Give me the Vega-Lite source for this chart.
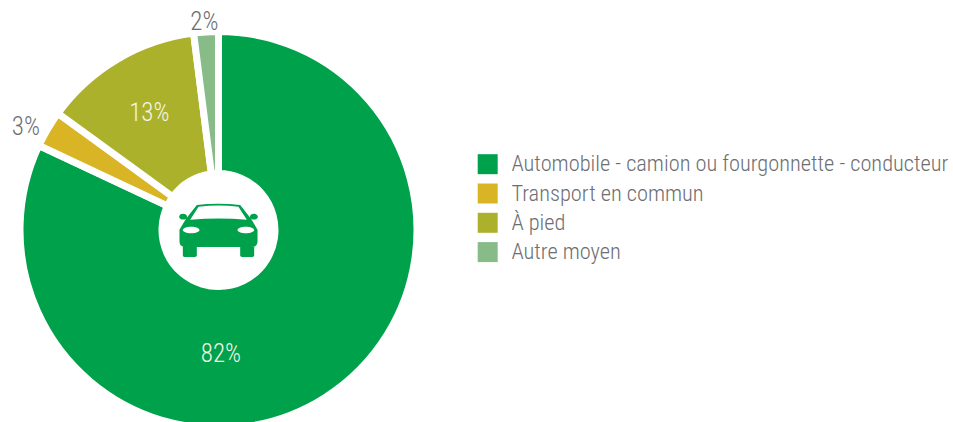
{
  "$schema": "https://vega.github.io/schema/vega-lite/v6.json",
  "width": 437, "height": 460, "padding": 0,
  "background": "white",
  "config": {"view": {"stroke": null}, "font": "Roboto Condensed, Roboto"},
  "data": {"values": [
    {"mode": "Automobile - camion ou fourgonnette - conducteur", "part": 82, "ordre": 1, "etiquette": "82%"},
    {"mode": "Transport en commun", "part": 3, "ordre": 2, "etiquette": "3%"},
    {"mode": "À pied", "part": 13, "ordre": 3, "etiquette": "13%"},
    {"mode": "Autre moyen", "part": 2, "ordre": 4, "etiquette": "2%"}
  ]},
  "encoding": {
    "theta": {"field": "part", "type": "quantitative", "stack": true},
    "order": {"field": "ordre", "type": "ordinal"}
  },
  "layer": [
    {
      "mark": {"type": "arc", "outerRadius": 198.5, "innerRadius": 56.5, "stroke": "white", "strokeWidth": 7},
      "encoding": {
        "color": {"field": "mode", "type": "nominal",
          "scale": {"domain": ["Automobile - camion ou fourgonnette - conducteur", "Transport en commun", "À pied", "Autre moyen"], "range": ["#00a14b", "#d9b526", "#acb12c", "#87bc88"]},
          "legend": {"title": null, "orient": "none", "legendX": 476.5, "legendY": 153, "symbolType": "square", "symbolSize": 400, "symbolStrokeWidth": 0, "symbolOpacity": 1, "labelFont": "Roboto Condensed, Roboto", "labelFontSize": 22.4, "labelFontWeight": 300, "labelColor": "#6d6e71", "labelOffset": 12.5, "rowPadding": 6.3, "labelLimit": 500}
        }
      }
    },
    {
      "mark": {"type": "text", "radius": 124, "fontSize": 25, "fontWeight": 300, "color": "#f2f5e6", "dx": -64, "dy": 19},
      "encoding": {"detail": {"field": "mode"}, "text": {"condition": {"test": "datum.ordre === 1", "field": "etiquette"}, "value": ""}}
    },
    {
      "mark": {"type": "text", "radius": 136, "fontSize": 25, "fontWeight": 300, "color": "#f2f5e6"},
      "encoding": {"detail": {"field": "mode"}, "text": {"condition": {"test": "datum.ordre === 3", "field": "etiquette"}, "value": ""}}
    },
    {
      "mark": {"type": "text", "radius": 218, "fontSize": 25, "fontWeight": 300, "color": "#6d6e71", "dx": -5, "dy": 8},
      "encoding": {"detail": {"field": "mode"}, "text": {"condition": {"test": "datum.ordre === 2", "field": "etiquette"}, "value": ""}}
    },
    {
      "mark": {"type": "text", "radius": 208.5, "fontSize": 25, "fontWeight": 300, "color": "#6d6e71", "dx": -1},
      "encoding": {"detail": {"field": "mode"}, "text": {"condition": {"test": "datum.ordre === 4", "field": "etiquette"}, "value": ""}}
    },
    {
      "data": {"values": [{"icone": "voiture"}]},
      "encoding": {"theta": null, "order": null},
      "mark": {"type": "point", "filled": true, "opacity": 1, "size": 6190, "color": "#00a14b", "strokeWidth": 0,
        "shape": "M-0.551,-0.636 Q0,-0.703 0.551,-0.636 L0.831,-0.28 L0.992,-0.008 L0.992,0.288 Q0.992,0.432 0.847,0.432 L-0.847,0.432 Q-0.992,0.432 -0.992,0.288 L-0.992,-0.008 L-0.831,-0.28 Z M-0.907,0.42 L-0.551,0.42 L-0.551,0.65 Q-0.551,0.686 -0.6,0.686 L-0.86,0.686 Q-0.907,0.686 -0.907,0.65 Z M0.551,0.42 L0.907,0.42 L0.907,0.65 Q0.907,0.686 0.86,0.686 L0.6,0.686 Q0.551,0.686 0.551,0.65 Z M-1,-0.339 A0.1,0.075 0 1 1 -0.8,-0.339 A0.1,0.075 0 1 1 -1,-0.339 Z M0.8,-0.339 A0.1,0.075 0 1 1 1,-0.339 A0.1,0.075 0 1 1 0.8,-0.339 Z"
      }
    },
    {
      "data": {"values": [{"icone": "vitres et phares"}]},
      "encoding": {"theta": null, "order": null},
      "mark": {"type": "point", "filled": true, "opacity": 1, "size": 6190, "color": "white", "strokeWidth": 0,
        "shape": "M-0.508,-0.593 Q0,-0.653 0.508,-0.593 L0.72,-0.263 Q0,-0.322 -0.72,-0.263 Z M-0.907,0 A0.212,0.085 0 1 1 -0.483,0 A0.212,0.085 0 1 1 -0.907,0 Z M0.483,0 A0.212,0.085 0 1 1 0.907,0 A0.212,0.085 0 1 1 0.483,0 Z"
      }
    }
  ]
}
